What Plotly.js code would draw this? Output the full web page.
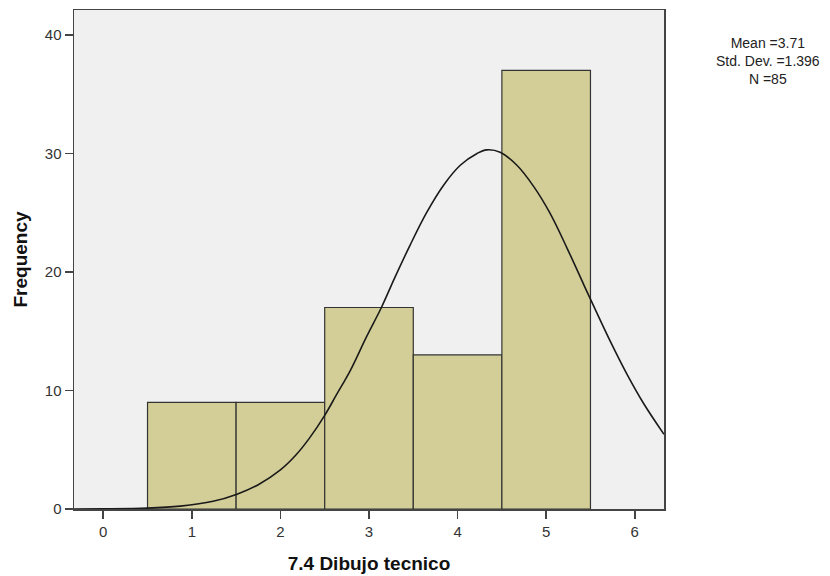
<!DOCTYPE html>
<html>
<head>
<meta charset="utf-8">
<script src="https://cdn.plot.ly/plotly-3.0.1.min.js"></script>
<style>html,body{margin:0;padding:0;background:#fff;}#chart{width:830px;height:576px;}</style>
</head>
<body>
<div id="chart"></div>
<script>
// Histogram bins (category values) and frequencies
const binCenters = [1, 2, 3, 4, 5];
const frequencies = [9, 9, 17, 13, 37];

// Normal curve points
const curveX = [-0.33, 0, 0.5, 0.87, 1.24, 1.51, 1.75, 2.0, 2.18, 2.33, 2.5, 2.63, 2.79, 2.97, 3.14, 3.29, 3.46, 3.65, 3.84, 4.03, 4.22, 4.33, 4.48, 4.67, 4.86, 5.04, 5.23, 5.42, 5.5, 5.72, 5.91, 6.10, 6.33];
const curveY = [0, 0.01, 0.07, 0.24, 0.65, 1.25, 2.05, 3.3, 4.6, 6.0, 7.9, 9.6, 11.7, 14.5, 17.0, 19.5, 22.2, 25.0, 27.3, 29.0, 30.0, 30.3, 30.1, 29.0, 27.2, 25.0, 22.1, 19.0, 17.7, 14.2, 11.4, 8.9, 6.3];

// Tick labels
const xTicks = [0, 1, 2, 3, 4, 5, 6];
const yTicks = [0, 10, 20, 30, 40];

// Summary statistics text
const statsLines = ["Mean =3.71", "Std. Dev. =1.396", "N =85"];

const font = "Liberation Sans, Arial, sans-serif";

const traces = [
  {
    type: "bar",
    x: binCenters,
    y: frequencies,
    width: 1,
    marker: { color: "#d3ce97", line: { color: "#333333", width: 1.2 } },
    hoverinfo: "x+y"
  },
  {
    type: "scatter",
    mode: "lines",
    x: curveX,
    y: curveY,
    line: { color: "#1a1a1a", width: 1.6, shape: "spline", smoothing: 1 },
    hoverinfo: "skip"
  }
];

const layout = {
  width: 830,
  height: 576,
  margin: { l: 74, r: 166, t: 10, b: 67, pad: 0 },
  paper_bgcolor: "#ffffff",
  plot_bgcolor: "#f0f0f0",
  showlegend: false,
  bargap: 0,
  font: { family: font, size: 14, color: "#222" },
  xaxis: {
    range: [-0.33, 6.33],
    tickvals: xTicks,
    ticktext: xTicks.map(String),
    ticks: "outside",
    ticklen: 8,
    tickwidth: 1.5,
    tickcolor: "#444",
    showgrid: false,
    zeroline: false,
    showline: true,
    mirror: true,
    linecolor: "#444",
    linewidth: 1.5,
    tickfont: { family: font, size: 15, color: "#333" },
    title: { text: "<b>7.4 Dibujo tecnico</b>", font: { family: font, size: 19, color: "#111" }, standoff: 18 }
  },
  yaxis: {
    range: [0, 42.1],
    tickvals: yTicks,
    ticktext: yTicks.map(String),
    ticks: "outside",
    ticklen: 8,
    tickwidth: 1.5,
    tickcolor: "#444",
    showgrid: false,
    zeroline: false,
    showline: true,
    mirror: true,
    linecolor: "#444",
    linewidth: 1.5,
    tickfont: { family: font, size: 15, color: "#333" },
    title: { text: "<b>Frequency</b>", font: { family: font, size: 19, color: "#111" }, standoff: 12 }
  },
  annotations: [{
    text: statsLines.join("<br>"),
    xref: "paper",
    yref: "paper",
    x: 1.176,
    y: (509 - 61) / 499,
    xanchor: "center",
    yanchor: "middle",
    align: "center",
    showarrow: false,
    font: { family: font, size: 14, color: "#222" }
  }]
};

Plotly.newPlot("chart", traces, layout, { displayModeBar: false, staticPlot: true });
</script>
</body>
</html>
